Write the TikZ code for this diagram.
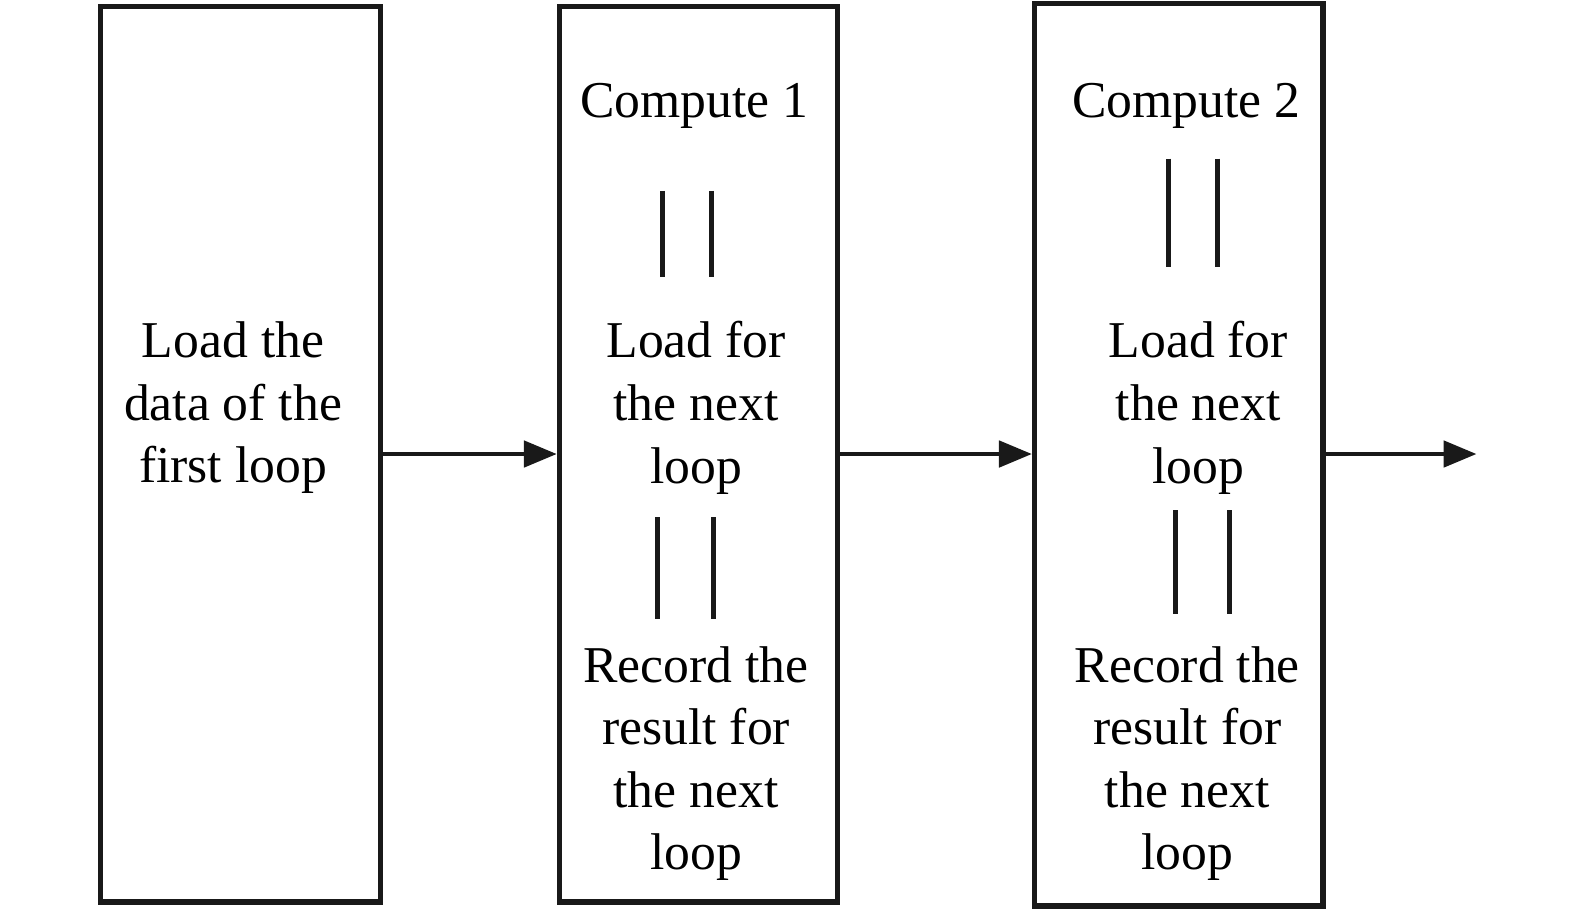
\documentclass[tikz,border=0pt]{standalone}
\usepackage{fontspec}
\setmainfont{Liberation Serif}
\usetikzlibrary{positioning,arrows.meta}

\begin{document}
\begin{tikzpicture}[
  x=.02009cm,y=.02009cm,>={Triangle[length=.66cm,width=.52cm]},
  font=\fontsize{29.4}{35.6}\selectfont,
  loopbox/.style={draw=black!90,line width=3pt,minimum width=#1*.02009cm,inner sep=0pt},
  cell/.style={align=center,inner sep=0pt},
  parbar/.style={black!90,line width=2.8pt},
  flow/.style={->,black!90,line width=2.8pt}
]
\useasboundingbox (0,4) rectangle (1568,908);
\node[loopbox=279,minimum height=17.92cm] (first) at (239.5,456) {};
\node[loopbox=277,minimum height=17.92cm] (compA) at (695.5,456) {};
\node[loopbox=287,minimum height=18.06cm] (compB) at (1173.5,455.5) {};
\node[cell] (firsttext) at (232,502) {Load the\\data of the\\first loop};
\node[cell,anchor=base] (titleA) at (691,791) {Compute 1};
\node[cell] (loadA) at (693,502) {Load for\\the next\\loop};
\node[cell] (recA) at (693,148) {Record the\\result for\\the next\\loop};
\node[cell,anchor=base] (titleB) at (1181,791) {Compute 2};
\node[cell] (loadB) at (1193,502) {Load for\\the next\\loop};
\node[cell] (recB) at (1182,148) {Record the\\result for\\the next\\loop};
\draw[parbar] (660,718) -- (660,632);
\draw[parbar] (708,718) -- (708,632);
\draw[parbar] (655,393) -- (655,292);
\draw[parbar] (710,393) -- (710,292);
\draw[parbar] (1163,750) -- (1163,642);
\draw[parbar] (1212,750) -- (1212,642);
\draw[parbar] (1170,400) -- (1170,297);
\draw[parbar] (1224,400) -- (1224,297);
\coordinate (out) at (1470,456);
\draw[flow] (first.east |- 0,456) -- (compA.west |- 0,456);
\draw[flow] (compA.east |- 0,456) -- (compB.west |- 0,456);
\draw[flow] (compB.east |- 0,456) -- (out);
\end{tikzpicture}
\end{document}
